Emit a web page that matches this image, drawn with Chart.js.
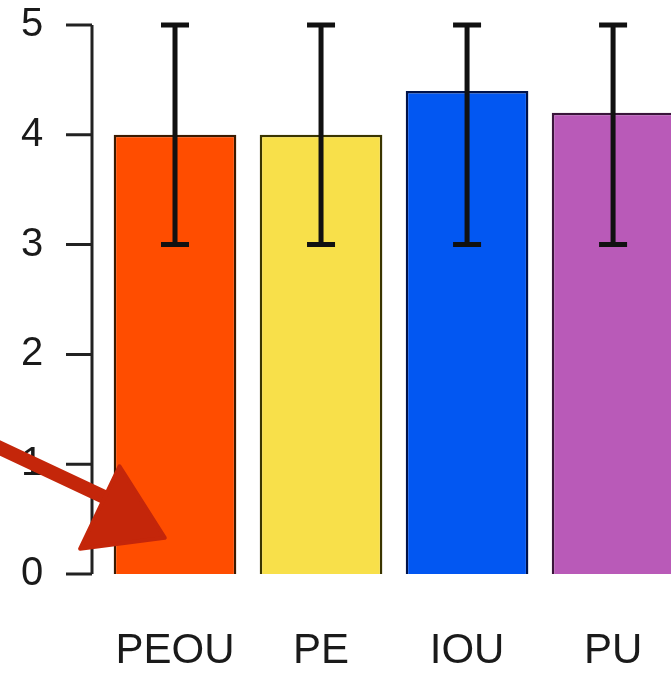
<!DOCTYPE html>
<html>
<head>
<meta charset="utf-8">
<script src="https://cdn.jsdelivr.net/npm/chart.js@4"></script>
<style>
  html, body { margin: 0; padding: 0; background: #fff; overflow: hidden; }
  #wrap { width: 695px; height: 673px; }
</style>
</head>
<body>
<div id="wrap"><canvas id="chart" width="695" height="673"></canvas></div>
<script>
// Mean scores with min/max whiskers
const categories = ['PEOU', 'PE', 'IOU', 'PU'];
const means = [4.0, 4.0, 4.4, 4.2];
const errLow = [3, 3, 3, 3];
const errHigh = [5, 5, 5, 5];
const yTicks = [0, 1, 2, 3, 4, 5];
const barColors = ['#ff4d00', '#f8e04a', '#0257f2', '#b95ab8'];
const barBorders = ['#3a1a00', '#3a3500', '#00124a', '#3a143a'];

// hand drawn arrow, in (category index, value) units
const arrowLine = [[-1.25, 1.18], [-0.45, 0.68]];
const arrowHead = [[-0.38, 0.98], [-0.07, 0.33], [-0.65, 0.23]];

const axisColor = '#222';

// R-style detached y axis + error bars + annotation arrow
const extras = {
  id: 'extras',
  afterDatasetsDraw(chart) {
    const c = chart.ctx;
    const xs = chart.scales.x, ys = chart.scales.y;
    // error bars
    c.save();
    c.strokeStyle = '#111';
    c.lineWidth = 5;
    c.lineCap = 'butt';
    means.forEach((m, i) => {
      const x = xs.getPixelForValue(i);
      const lo = ys.getPixelForValue(errLow[i]);
      const hi = ys.getPixelForValue(errHigh[i]);
      c.beginPath();
      c.moveTo(x, lo); c.lineTo(x, hi);
      c.moveTo(x - 14, lo); c.lineTo(x + 14, lo);
      c.moveTo(x - 14, hi); c.lineTo(x + 14, hi);
      c.stroke();
    });
    // y axis line and ticks
    const ax = chart.chartArea.left - 10;
    c.strokeStyle = axisColor;
    c.lineWidth = 3;
    c.beginPath();
    c.moveTo(ax, ys.getPixelForValue(yTicks[0]));
    c.lineTo(ax, ys.getPixelForValue(yTicks[yTicks.length - 1]));
    yTicks.forEach(t => {
      const y = ys.getPixelForValue(t);
      c.moveTo(ax - 26, y); c.lineTo(ax, y);
    });
    c.stroke();
    // arrow
    const px = p => [xs.getPixelForValue(0) + p[0] * (xs.getPixelForValue(1) - xs.getPixelForValue(0)), ys.getPixelForValue(p[1])];
    c.strokeStyle = '#c4260a';
    c.fillStyle = '#c4260a';
    c.lineWidth = 14;
    c.lineCap = 'round';
    const a = px(arrowLine[0]), b = px(arrowLine[1]);
    c.beginPath(); c.moveTo(a[0], a[1]); c.lineTo(b[0], b[1]); c.stroke();
    c.lineJoin = 'round';
    c.lineWidth = 4;
    c.beginPath();
    arrowHead.forEach((p, i) => { const q = px(p); i ? c.lineTo(q[0], q[1]) : c.moveTo(q[0], q[1]); });
    c.closePath();
    c.fill(); c.stroke();
    c.restore();
  }
};

new Chart(document.getElementById('chart').getContext('2d'), {
  type: 'bar',
  data: {
    labels: categories,
    datasets: [{
      data: means,
      backgroundColor: barColors,
      borderColor: barBorders,
      borderWidth: 2.5,
      categoryPercentage: 1,
      barPercentage: 0.84,
    }],
  },
  options: {
    responsive: false,
    animation: false,
    layout: { padding: { top: 25, right: 6, left: 21, bottom: 0 } },
    plugins: { legend: { display: false }, tooltip: { enabled: false } },
    scales: {
      x: {
        grid: { display: false, drawTicks: false },
        border: { display: false },
        ticks: { color: '#1a1a1a', font: { family: 'Liberation Sans', size: 42 }, padding: 52, maxRotation: 0 },
        afterFit: s => { s.height = 99; },
      },
      y: {
        min: 0,
        max: 5,
        afterBuildTicks: s => { s.ticks = yTicks.map(v => ({ value: v })); },
        grid: { display: false, drawTicks: false },
        border: { display: false },
        ticks: { color: '#1a1a1a', font: { family: 'Liberation Sans', size: 40 }, padding: 0, crossAlign: 'far' },
        afterFit: s => { s.width = 81; },
      },
    },
  },
  plugins: [extras],
});
</script>
</body>
</html>
